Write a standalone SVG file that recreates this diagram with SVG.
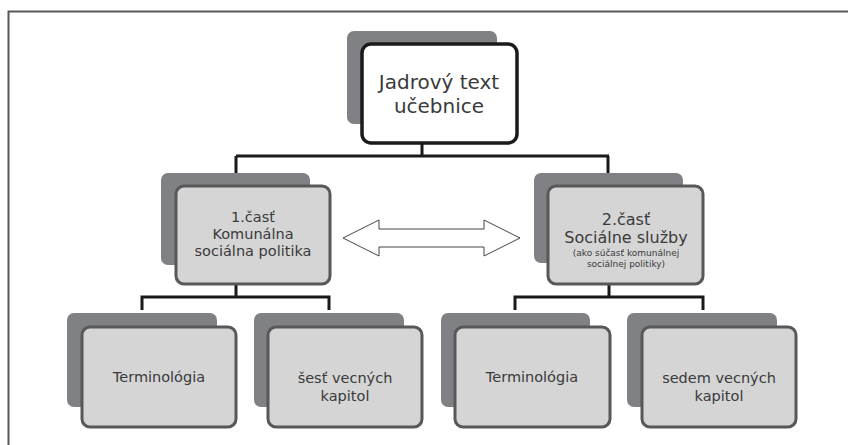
<svg xmlns="http://www.w3.org/2000/svg" width="848" height="445" viewBox="0 0 848 445">
<defs>
<style>
.shadow{fill:#808184;}
.box{fill:#d5d5d6;stroke:#58585a;stroke-width:3;}
.top{fill:#ffffff;stroke:#1a1a1a;stroke-width:3.5;}
.conn{fill:none;stroke:#1a1a1a;stroke-width:3;}
text{font-family:"DejaVu Sans","Liberation Sans",sans-serif;fill:#3a3a3a;text-anchor:middle;}
.t15{font-size:14.5px;}
</style>
</defs>
<rect width="848" height="445" fill="#fff"/>
<path d="M8.5,445 V11.5 H848" fill="none" stroke="#58585a" stroke-width="2"/>
<g id="connectors">
<path class="conn" d="M422,143 V156 M236,156 H609 M236,156 V173 M608,156 V173"/>
<path class="conn" d="M236,284 V297 M142,310 V297 H329 V310"/>
<path class="conn" d="M609,284 V297 M515,310 V297 H703 V310"/>
<path d="M343,238 L379,220 L379,229 L484,229 L484,220 L520,238 L484,256 L484,247 L379,247 L379,256 Z" fill="#fff" stroke="#444" stroke-width="1"/>
</g>
<g id="root">
<rect class="shadow" x="347" y="31" width="150" height="93" rx="7"/>
<rect class="top" x="362" y="44" width="155" height="99" rx="9"/>
<text x="439" y="89" font-size="20">Jadrový text</text>
<text x="439" y="113" font-size="20">učebnice</text>
</g>
<g id="part1">
<rect class="shadow" x="161" y="173" width="149" height="92" rx="7"/>
<rect class="box" x="176" y="186" width="154" height="98" rx="8"/>
<text class="t15" x="253" y="222">1.časť</text>
<text class="t15" x="253" y="239">Komunálna</text>
<text class="t15" x="253" y="256">sociálna politika</text>
</g>
<g id="part2">
<rect class="shadow" x="534" y="173" width="149" height="90" rx="7"/>
<rect class="box" x="548" y="186" width="155" height="98" rx="8"/>
<text x="626" y="225" font-size="16">2.časť</text>
<text x="626" y="243" font-size="16">Sociálne služby</text>
<text x="626" y="256" font-size="9">(ako súčasť komunálnej</text>
<text x="626" y="267" font-size="9">sociálnej politiky)</text>
</g>
<g id="term1">
<rect class="shadow" x="67" y="313" width="150" height="94" rx="7"/>
<rect class="box" x="82" y="327" width="154" height="100" rx="8"/>
<text class="t15" x="159" y="382">Terminológia</text>
</g>
<g id="kap1">
<rect class="shadow" x="254" y="313" width="150" height="94" rx="7"/>
<rect class="box" x="268" y="327" width="154" height="100" rx="8"/>
<text class="t15" x="345" y="383">šesť vecných</text>
<text class="t15" x="345" y="401">kapitol</text>
</g>
<g id="term2">
<rect class="shadow" x="441" y="313" width="149" height="94" rx="7"/>
<rect class="box" x="455" y="327" width="155" height="100" rx="8"/>
<text class="t15" x="532" y="382">Terminológia</text>
</g>
<g id="kap2">
<rect class="shadow" x="627" y="313" width="150" height="94" rx="7"/>
<rect class="box" x="642" y="327" width="154" height="100" rx="8"/>
<text class="t15" x="719" y="383">sedem vecných</text>
<text class="t15" x="719" y="401">kapitol</text>
</g>
</svg>
